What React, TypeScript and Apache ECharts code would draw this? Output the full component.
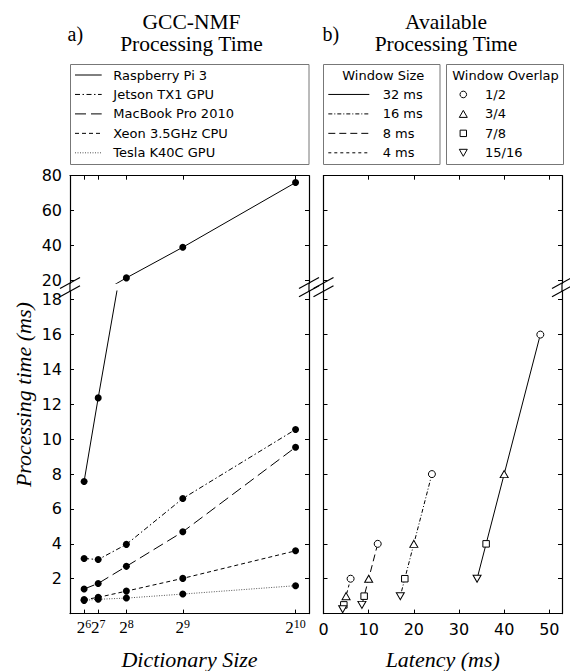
import React, { useEffect, useRef } from "react";
import * as echarts from "echarts";

// ---------- data ----------
const dictSizes = [64, 128, 256, 512, 1024];
const raspberryPi3 = [7.58, 12.37, 21.6, 39.1, 76.1];
const jetsonTX1 = [3.16, 3.1, 3.97, 6.6, 10.56];
const macBookPro2010 = [1.41, 1.73, 2.71, 4.69, 9.54];
const xeonCPU = [0.8, 0.93, 1.29, 2.02, 3.6];
const teslaK40C = [0.76, 0.82, 0.89, 1.12, 1.6];
const deviceNames = ["Raspberry Pi 3", "Jetson TX1 GPU", "MacBook Pro 2010", "Xeon 3.5GHz CPU", "Tesla K40C GPU"];

const windowSizeLabels = ["32 ms", "16 ms", "8 ms", "4 ms"];
const overlapLabels = ["1/2", "3/4", "7/8", "15/16"];
const latency32 = [48, 40, 36, 34];
const procTime32 = [16, 8, 4, 2];
const latency16 = [24, 20, 18, 17];
const procTime16 = [8, 4, 2, 1];
const latency8 = [12, 10, 9, 8.5];
const procTime8 = [4, 2, 1, 0.5];
const latency4 = [6, 5, 4.5, 4.25];
const procTime4 = [2, 1, 0.5, 0.25];

const yTicksTop = [20, 40, 60, 80];
const yTicksBottom = [2, 4, 6, 8, 10, 12, 14, 16, 18];
const xTicksLatency = [0, 10, 20, 30, 40, 50];

// ---------- layout / styles ----------
const LL = 70, LR = 309; // left panel spines
const RL = 323.5, RR = 562; // right panel spines
const TOP = 175.7, BRK1 = 283.3, BRK2 = 291, BOT = 613.6;
const X_LEFT_MAX = 1085, X_RIGHT_MAX = 52.8;
const Y_SPLIT = 18.5, Y_MAX = 80;

const deviceDash: (number[] | null)[] = [null, [5, 2.5, 1.5, 2.5], [11, 5], [4, 3], [1, 1.5]];
const deviceColor = ["#000", "#000", "#000", "#000", "#555"];
const windowDash: (number[] | null)[] = [null, [4, 2, 1, 2], [7, 4], [3, 3]];
const overlapSymbol = ["circle", "triangle", "rect", "triangle"];
const overlapRotate = [0, 0, 0, 180];
const overlapSize: [number, number][] = [[7, 7], [8, 7], [6.5, 6.5], [8, 7]];

const SANS = "DejaVu Sans";
const SERIF = "Liberation Serif";

function axisBase(extra: any) {
  return {
    type: "value",
    axisLine: { show: true, onZero: false, lineStyle: { color: "#000", width: 1.2 } },
    splitLine: { show: false },
    ...extra,
  };
}
function ticks(vals: number[]) {
  return { show: true, inside: true, length: 4, lineStyle: { color: "#000", width: 1 }, customValues: vals };
}
function labels(vals: number[], show: boolean, extra: any = {}) {
  return show
    ? {
        show: true, customValues: vals, color: "#000", fontFamily: SANS, fontSize: 16, margin: 8,
        hideOverlap: false, showMinLabel: true, showMaxLabel: true, ...extra,
      }
    : { show: false };
}
function powLabels(vals: number[]) {
  return {
    show: true, customValues: vals, margin: 4, hideOverlap: false, showMinLabel: true, showMaxLabel: true,
    formatter: (v: number) => `{b|2}{s|${Math.round(Math.log2(v))}}`,
    rich: {
      b: { fontFamily: SERIF, fontSize: 17, color: "#000" },
      s: { fontFamily: SERIF, fontSize: 12, color: "#000", padding: [0, 0, 8, 0] },
    },
  };
}

function buildOption() {
  const grids = [
    { left: LL, top: TOP, width: LR - LL, height: BRK1 - TOP },
    { left: LL, top: BRK2, width: LR - LL, height: BOT - BRK2 },
    { left: RL, top: TOP, width: RR - RL, height: BRK1 - TOP },
    { left: RL, top: BRK2, width: RR - RL, height: BOT - BRK2 },
  ].map((g) => ({ ...g, containLabel: false, outerBoundsMode: "none", show: false }));

  const nameStyle = { fontFamily: SERIF, fontStyle: "italic", fontSize: 22, color: "#000" };
  const xAxis = [
    axisBase({ gridIndex: 0, position: "top", min: 0, max: X_LEFT_MAX, axisTick: ticks(dictSizes), axisLabel: { show: false } }),
    axisBase({
      gridIndex: 1, position: "bottom", min: 0, max: X_LEFT_MAX, axisTick: ticks(dictSizes),
      axisLabel: powLabels(dictSizes.filter((_, i) => i % 2 === 0)),
      name: "Dictionary Size", nameLocation: "middle", nameGap: 35, nameTextStyle: nameStyle,
    }),
    axisBase({ gridIndex: 2, position: "top", min: 0, max: X_RIGHT_MAX, axisTick: ticks(xTicksLatency), axisLabel: { show: false } }),
    axisBase({
      gridIndex: 3, position: "bottom", min: 0, max: X_RIGHT_MAX, axisTick: ticks(xTicksLatency),
      axisLabel: labels(xTicksLatency, true),
      name: "Latency (ms)", nameLocation: "middle", nameGap: 35, nameTextStyle: nameStyle,
    }),
    // second label carrier for the left panel (keeps the closely spaced 2^7 / 2^9 labels visible)
    {
      type: "value", gridIndex: 1, position: "bottom", offset: 0, min: 0, max: X_LEFT_MAX,
      axisLine: { show: false, onZero: false }, axisTick: { show: false }, splitLine: { show: false },
      axisLabel: powLabels(dictSizes.filter((_, i) => i % 2 === 1)),
    },
  ];

  const yAxis = [
    axisBase({ gridIndex: 0, position: "left", min: Y_SPLIT, max: Y_MAX, axisTick: ticks(yTicksTop), axisLabel: labels(yTicksTop, true) }),
    axisBase({ gridIndex: 0, position: "right", min: Y_SPLIT, max: Y_MAX, axisTick: ticks(yTicksTop), axisLabel: { show: false } }),
    axisBase({ gridIndex: 1, position: "left", min: 0, max: Y_SPLIT, axisTick: ticks(yTicksBottom), axisLabel: labels(yTicksBottom, true) }),
    axisBase({ gridIndex: 1, position: "right", min: 0, max: Y_SPLIT, axisTick: ticks(yTicksBottom), axisLabel: { show: false } }),
    axisBase({ gridIndex: 2, position: "left", min: Y_SPLIT, max: Y_MAX, axisTick: ticks(yTicksTop), axisLabel: { show: false } }),
    axisBase({ gridIndex: 2, position: "right", min: Y_SPLIT, max: Y_MAX, axisTick: ticks(yTicksTop), axisLabel: { show: false } }),
    axisBase({ gridIndex: 3, position: "left", min: 0, max: Y_SPLIT, axisTick: ticks(yTicksBottom), axisLabel: { show: false } }),
    axisBase({ gridIndex: 3, position: "right", min: 0, max: Y_SPLIT, axisTick: ticks(yTicksBottom), axisLabel: { show: false } }),
  ];

  const deviceValues = [raspberryPi3, jetsonTX1, macBookPro2010, xeonCPU, teslaK40C];
  const series: any[] = [];
  deviceValues.forEach((vals, i) => {
    const data = dictSizes.map((x, k) => [x, vals[k]]);
    [[0, 0], [1, 2]].forEach(([xi, yi]) => {
      series.push({
        type: "line", name: deviceNames[i], xAxisIndex: xi, yAxisIndex: yi, data, clip: true,
        symbol: "circle", symbolSize: 7, itemStyle: { color: "#000" },
        lineStyle: { color: deviceColor[i], width: 1, type: deviceDash[i] || "solid" },
        z: 10 - i,
      });
    });
  });

  const winLat = [latency32, latency16, latency8, latency4];
  const winProc = [procTime32, procTime16, procTime8, procTime4];
  winLat.forEach((lat, i) => {
    series.push({
      type: "line", name: windowSizeLabels[i], xAxisIndex: 3, yAxisIndex: 6, clip: true,
      data: lat.map((x, k) => ({
        value: [x, winProc[i][k]], symbol: overlapSymbol[k], symbolRotate: overlapRotate[k], symbolSize: overlapSize[k],
      })),
      itemStyle: { color: "#fff", borderColor: "#000", borderWidth: 1 },
      lineStyle: { color: "#000", width: 1, type: windowDash[i] || "solid" },
    });
  });

  // ---------- graphic: titles, legends, axis breaks ----------
  const g: any[] = [];
  const txt = (text: string, x: number, y: number, font: string, align = "left", extra: any = {}) => ({
    type: "text", x, y, ...extra,
    style: { text, font, fill: "#000", align, verticalAlign: "middle", textAlign: align, textVerticalAlign: "middle" },
  });
  const ttl = `21.5px "${SERIF}"`;
  g.push(txt("a)", 67.5, 34, `20px "${SERIF}"`));
  g.push(txt("GCC-NMF", 191.5, 22, ttl, "center"));
  g.push(txt("Processing Time", 191.5, 43.8, ttl, "center"));
  g.push(txt("b)", 322.5, 34, `20px "${SERIF}"`));
  g.push(txt("Available", 446, 22, ttl, "center"));
  g.push(txt("Processing Time", 446, 43.8, ttl, "center"));
  g.push(txt("Processing time (ms)", 23, (TOP + BOT) / 2, `italic 22px "${SERIF}"`, "center", { rotation: Math.PI / 2 }));

  const lf = `13px "${SANS}"`;
  const rowY0 = 75, rowDY = 19.45;
  // left legend
  g.push({ type: "rect", shape: { x: 70.5, y: 64.5, width: 238.5, height: 100 }, style: { fill: "#fff", stroke: "#777", lineWidth: 1 } });
  deviceNames.forEach((n, i) => {
    const y = rowY0 + i * rowDY;
    const st: any = { stroke: deviceColor[i], lineWidth: 1 };
    if (deviceDash[i]) st.lineDash = deviceDash[i];
    g.push({ type: "line", shape: { x1: 75, y1: y, x2: 101.7, y2: y }, style: st });
    g.push(txt(n, 113.3, y, lf));
  });
  // window size legend
  g.push({ type: "rect", shape: { x: 323.5, y: 64.5, width: 116.5, height: 100 }, style: { fill: "#fff", stroke: "#777", lineWidth: 1 } });
  g.push(txt("Window Size", 383.3, rowY0, lf, "center"));
  windowSizeLabels.forEach((n, i) => {
    const y = rowY0 + (i + 1) * rowDY;
    const st: any = { stroke: "#000", lineWidth: 1 };
    if (windowDash[i]) st.lineDash = windowDash[i];
    g.push({ type: "line", shape: { x1: 328.3, y1: y, x2: 369.3, y2: y }, style: st });
    g.push(txt(n, 382.7, y, lf));
  });
  // overlap legend
  g.push({ type: "rect", shape: { x: 446.5, y: 64.5, width: 117, height: 100 }, style: { fill: "#fff", stroke: "#777", lineWidth: 1 } });
  g.push(txt("Window Overlap", 505.5, rowY0, lf, "center"));
  const mst = { fill: "#fff", stroke: "#000", lineWidth: 1 };
  overlapLabels.forEach((n, i) => {
    const y = rowY0 + (i + 1) * rowDY;
    const x = 463.3;
    if (overlapSymbol[i] === "circle") g.push({ type: "circle", shape: { cx: x, cy: y, r: 3.3 }, style: mst });
    else if (overlapSymbol[i] === "rect") g.push({ type: "rect", shape: { x: x - 3.2, y: y - 3.2, width: 6.4, height: 6.4 }, style: mst });
    else if (overlapRotate[i] === 0) g.push({ type: "polygon", shape: { points: [[x - 4, y + 3.5], [x + 4, y + 3.5], [x, y - 3.5]] }, style: mst });
    else g.push({ type: "polygon", shape: { points: [[x - 4, y - 3.5], [x + 4, y - 3.5], [x, y + 3.5]] }, style: mst });
    g.push(txt(n, 485, y, lf));
  });

  // axis break marks and spine continuation across the gap
  [LL, LR, RL, RR].forEach((x) => {
    g.push({ type: "line", shape: { x1: x, y1: BRK1, x2: x, y2: BRK2 }, style: { stroke: "#000", lineWidth: 1.2 } });
    [BRK1 - 0.3, BRK2 + 0.3].forEach((y) => {
      g.push({ type: "line", shape: { x1: x - 10, y1: y + 5.5, x2: x + 10, y2: y - 5.5 }, style: { stroke: "#000", lineWidth: 1.2 } });
    });
  });

  return {
    animation: false,
    backgroundColor: "#fff",
    textStyle: { fontFamily: SANS },
    grid: grids,
    xAxis,
    yAxis,
    series,
    graphic: { elements: g },
  };
}

export default function App() {
  const ref = useRef<HTMLDivElement>(null);
  useEffect(() => {
    if (!ref.current) return;
    const chart = echarts.init(ref.current, undefined, { renderer: "svg", width: 570, height: 671 });
    chart.setOption(buildOption() as any);
    return () => chart.dispose();
  }, []);
  return <div ref={ref} style={{ position: "fixed", left: 0, top: 0, width: 570, height: 671, background: "#fff" }} />;
}
